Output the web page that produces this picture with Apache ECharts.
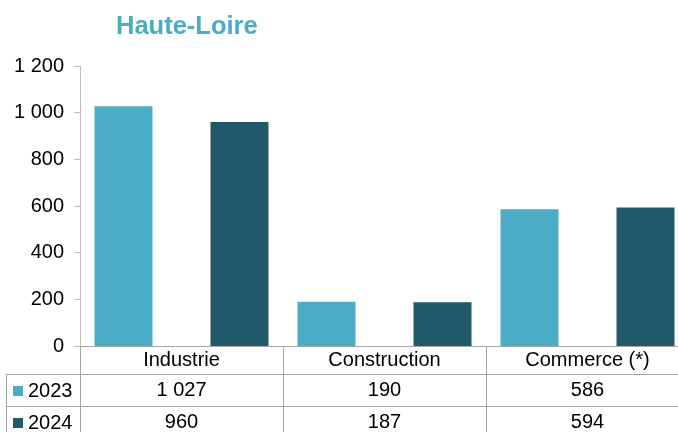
<!DOCTYPE html>
<html>
<head>
<meta charset="utf-8">
<script src="https://cdn.jsdelivr.net/npm/echarts@6/dist/echarts.min.js"></script>
<style>html,body{margin:0;padding:0;background:#fff}#c{width:678px;height:432px}</style>
</head>
<body>
<div id="c"></div>
<script>
var categories = ['Industrie', 'Construction', 'Commerce (*)'];
var seriesNames = ['2023', '2024'];
var values2023 = [1027, 190, 586];
var values2024 = [960, 187, 594];
var yTicks = { min: 0, max: 1200, interval: 200 };

function fmt(v) { return String(v).replace(/\B(?=(\d{3})+(?!\d))/g, ' '); }

var FONT = '"Liberation Sans", Arial, sans-serif';
var C1 = '#4BACC6', C2 = '#215968';
var LINE = '#A6A6A6';
var FS = 20;

var chart = echarts.init(document.getElementById('c'));
function tableAxis(data, offset, tickLen, margin) {
  return {
    type: 'category', data: data, position: 'bottom', offset: offset, gridIndex: 0,
    axisLine: { show: true, lineStyle: { color: LINE, width: 1 } },
    axisTick: { show: true, length: tickLen, interval: 0, lineStyle: { color: LINE, width: 1 } },
    axisLabel: { color: '#000', fontSize: FS, fontFamily: FONT, margin: margin, interval: 0 },
    splitLine: { show: false }
  };
}
chart.setOption({
  animation: false,
  title: {
    text: 'Haute-Loire', left: 111, top: 9,
    textStyle: { color: C1, fontSize: 25.5, fontWeight: 'bold', fontFamily: FONT }
  },
  legend: {
    orient: 'vertical', left: 13, top: 381, height: 80, itemWidth: 10, itemHeight: 10, itemGap: 12,
    icon: 'rect', selectedMode: false, padding: 0,
    textStyle: { color: '#000', fontSize: FS, fontFamily: FONT, lineHeight: 20 },
    data: seriesNames
  },
  grid: { left: 80, top: 66, width: 609, height: 280, outerBoundsMode: 'none', containLabel: false },
  xAxis: [
    tableAxis(categories, 0, 28, 4),
    tableAxis(values2023.map(fmt), 28, 32, 6),
    tableAxis(values2024.map(fmt), 60, 30, 6)
  ],
  yAxis: {
    type: 'value', min: yTicks.min, max: yTicks.max, interval: yTicks.interval,
    axisLine: { show: true, lineStyle: { color: '#BFBFBF' } },
    axisTick: { show: true, length: 6, lineStyle: { color: '#BFBFBF' } },
    axisLabel: { color: '#000', fontSize: FS, fontFamily: FONT, margin: 16, formatter: fmt },
    splitLine: { show: false }
  },
  series: [
    { name: seriesNames[0], type: 'bar', data: values2023, barWidth: 58, barGap: '100%', itemStyle: { color: C1 }, xAxisIndex: 0 },
    { name: seriesNames[1], type: 'bar', data: values2024, barWidth: 58, barGap: '100%', itemStyle: { color: C2 }, xAxisIndex: 0 }
  ],
  graphic: [
    { type: 'line', shape: { x1: 6, y1: 374.5, x2: 80, y2: 374.5 }, style: { stroke: LINE, lineWidth: 1 } },
    { type: 'line', shape: { x1: 6, y1: 406.5, x2: 80, y2: 406.5 }, style: { stroke: LINE, lineWidth: 1 } },
    { type: 'line', shape: { x1: 6.5, y1: 374, x2: 6.5, y2: 432 }, style: { stroke: LINE, lineWidth: 1 } }
  ]
});
</script>
</body>
</html>
